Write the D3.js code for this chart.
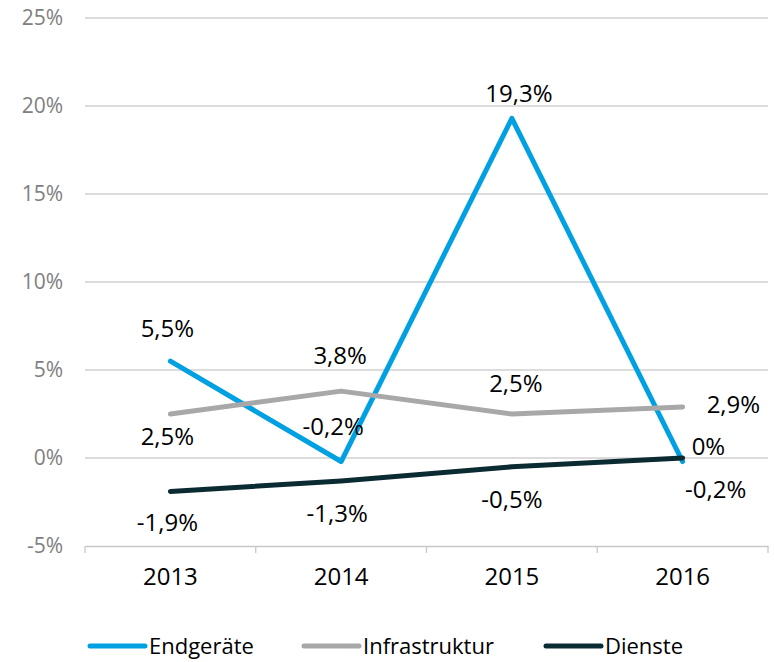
<!doctype html>
<html>
<head>
<meta charset="utf-8">
<script src="https://cdnjs.cloudflare.com/ajax/libs/d3/7.8.5/d3.min.js"></script>
<style>
  body { margin: 0; background: #fff; }
  svg { display: block; font-family: "Open Sans", sans-serif; }
</style>
</head>
<body>
<svg id="chart" width="774" height="662"></svg>
<script>
  // data
  var years = ["2013", "2014", "2015", "2016"];
  var endgeraete = [5.5, -0.2, 19.3, -0.2];
  var infrastruktur = [2.5, 3.8, 2.5, 2.9];
  var dienste = [-1.9, -1.3, -0.5, 0];
  var yTicks = [-5, 0, 5, 10, 15, 20, 25];

  // label placement [dx, dy, anchor] relative to each point
  var series = [
    { name: "Endgeräte", values: endgeraete, color: "#00a0e3",
      place: [[-3, -24, "middle"], [-8, -27, "middle"], [7, -16, "middle"], [33, 36, "middle"]] },
    { name: "Infrastruktur", values: infrastruktur, color: "#a8a8a8",
      place: [[-3, 31, "middle"], [-1, -27, "middle"], [4, -22, "middle"], [24, 6, "start"]] },
    { name: "Dienste", values: dienste, color: "#0b2b33",
      place: [[-3, 40, "middle"], [-4, 41, "middle"], [0, 41, "middle"], [9, -3, "start"]] }
  ];

  var svg = d3.select("#chart");
  var margin = { left: 85, right: 6, top: 18, bottom: 116 };
  var width = 774 - margin.left - margin.right;
  var height = 662 - margin.top - margin.bottom;
  var g = svg.append("g").attr("transform", "translate(" + margin.left + "," + margin.top + ")");

  var x = d3.scaleBand().domain(years).range([0, width]);
  var y = d3.scaleLinear().domain([-5, 25]).range([height, 0]);

  // gridlines
  g.selectAll("line.grid")
    .data(yTicks.filter(function (d) { return d > -5; }))
    .enter().append("line")
    .attr("x1", 0).attr("x2", width)
    .attr("y1", function (d) { return y(d); }).attr("y2", function (d) { return y(d); })
    .style("stroke", "#d0d0d0").style("stroke-width", 1.3);

  // y labels
  g.selectAll("text.ylab")
    .data(yTicks)
    .enter().append("text")
    .attr("x", -22).attr("y", function (d) { return y(d); })
    .attr("dy", "0.35em")
    .attr("text-anchor", "end")
    .style("fill", "#808080").style("font-size", "21px")
    .text(function (d) { return d + "%"; });

  // x axis
  var xAxis = d3.axisBottom(x).tickSize(0).tickPadding(22);
  var ax = g.append("g").attr("transform", "translate(0," + height + ")").call(xAxis);
  ax.select(".domain").style("stroke", "#c8c8c8").style("stroke-width", 1.3);
  ax.selectAll("text").style("font-size", "24px").style("fill", "#000").style("font-family", "Open Sans, sans-serif");
  var bounds = [0].concat(years.map(function (d) { return x(d) + x.bandwidth(); }));
  ax.selectAll("line.bnd").data(bounds).enter().append("line")
    .attr("x1", function (d) { return d; }).attr("x2", function (d) { return d; })
    .attr("y1", 0).attr("y2", 7)
    .style("stroke", "#c8c8c8").style("stroke-width", 1.3);

  var cx = function (i) { return x(years[i]) + x.bandwidth() / 2; };
  var line = d3.line()
    .x(function (d, i) { return cx(i); })
    .y(function (d) { return y(d); });

  series.forEach(function (s) {
    g.append("path")
      .datum(s.values)
      .attr("d", line)
      .style("fill", "none")
      .style("stroke", s.color)
      .style("stroke-width", 5)
      .style("stroke-linecap", "round")
      .style("stroke-linejoin", "round");
  });

  var fmt = function (v) { return (v + "").replace(".", ",") + "%"; };

  series.forEach(function (s) {
    s.values.forEach(function (v, i) {
      var o = s.place[i];
      g.append("text")
        .attr("x", cx(i) + o[0])
        .attr("y", y(v) + o[1])
        .attr("text-anchor", o[2])
        .style("font-size", "24px")
        .style("fill", "#000")
        .text(fmt(v));
    });
  });

  // legend
  var legX = [90, 304, 546];
  var leg = svg.append("g").attr("transform", "translate(0,646)");
  series.forEach(function (s, i) {
    leg.append("line")
      .attr("x1", legX[i]).attr("x2", legX[i] + 55)
      .attr("y1", 0).attr("y2", 0)
      .style("stroke", s.color).style("stroke-width", 5)
      .style("stroke-linecap", "round");
    leg.append("text")
      .attr("x", legX[i] + 59).attr("y", 0).attr("dy", "0.35em")
      .style("font-size", "22px").style("fill", "#000")
      .text(s.name);
  });
</script>
</body>
</html>
